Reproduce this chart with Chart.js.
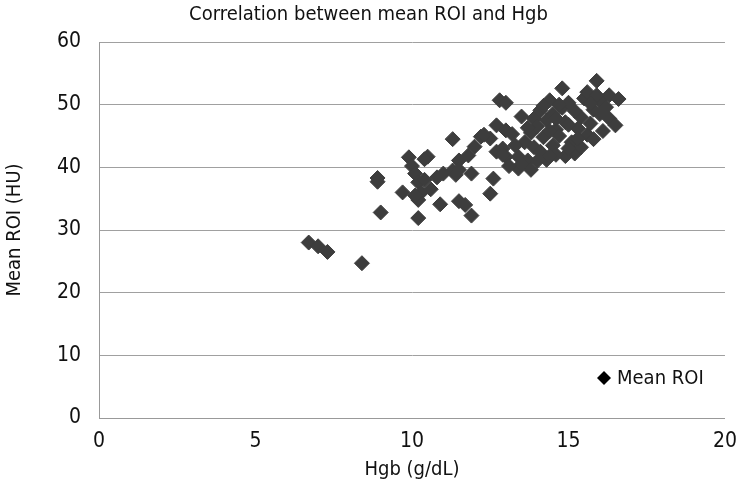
<!DOCTYPE html>
<html>
<head>
<meta charset="utf-8">
<script src="https://cdn.jsdelivr.net/npm/chart.js@4/dist/chart.umd.min.js"></script>
<style>
  html, body { margin: 0; padding: 0; background: #fff; }
  #wrap { width: 748px; height: 492px; }
</style>
</head>
<body>
<div id="wrap"><canvas id="c" width="748" height="492"></canvas></div>
<script>
const chartTitle = "Correlation between mean ROI and Hgb";
const xAxisTitle = "Hgb (g/dL)";
const yAxisTitle = "Mean ROI (HU)";
const seriesName = "Mean ROI";

const hgb = [
  6.7, 7.0, 7.3, 8.4, 8.9, 8.9, 9.0, 9.7, 9.9, 10.0,
  10.1, 10.2, 10.3, 10.2, 10.2, 10.5, 10.4, 10.6, 10.9, 10.8,
  11.0, 11.3, 11.4, 11.3, 11.5, 11.5, 11.8, 11.9, 12.0, 11.5,
  11.7, 11.9, 12.2, 12.5, 12.6, 12.5, 12.7, 12.7, 12.9, 13.0,
  13.0, 13.2, 12.8, 13.0, 13.5, 13.4, 13.7, 13.4, 13.8, 13.6,
  13.9, 14.1, 14.4, 14.8, 13.8, 13.9, 14.0, 14.2, 14.3, 14.5,
  14.6, 14.1, 14.3, 14.5, 14.7, 14.8, 14.9, 15.0, 15.1, 15.2,
  14.9, 15.3, 15.4, 15.5, 15.6, 15.9, 15.6, 15.7, 15.8, 16.0,
  16.3, 16.6, 16.3, 16.5, 16.0, 15.8, 15.4, 15.0, 14.6, 14.4,
  14.2, 13.7, 13.3, 12.9, 15.2, 16.1, 15.9, 13.5, 14.0, 14.7,
  10.1, 10.4, 12.3, 13.1, 14.4, 15.3, 15.0, 14.6, 15.7, 16.2
];
const meanRoi = [
  28.0, 27.4, 26.5, 24.7, 38.3, 37.7, 32.8, 36.0, 41.6, 40.2,
  39.0, 37.6, 36.0, 34.8, 31.9, 41.7, 41.3, 36.5, 34.1, 38.4,
  39.0, 39.5, 38.8, 44.5, 41.1, 39.6, 41.9, 39.0, 43.3, 34.6,
  34.0, 32.3, 44.9, 44.6, 38.2, 35.8, 42.5, 46.7, 43.0, 41.7,
  45.9, 45.3, 50.7, 50.3, 48.1, 41.7, 41.1, 39.8, 39.6, 44.0,
  47.8, 49.1, 50.7, 52.6, 45.5, 43.2, 46.5, 44.8, 47.5, 48.5,
  46.0, 42.5, 41.2, 43.5, 45.0, 49.5, 47.2, 50.3, 44.0, 42.2,
  41.8, 46.2, 48.0, 51.0, 52.0, 53.8, 45.2, 47.0, 49.2, 50.7,
  51.5, 50.9, 47.8, 46.7, 48.5, 44.5, 43.2, 43.0, 42.0, 45.8,
  49.8, 46.3, 43.5, 42.0, 49.0, 45.8, 51.5, 40.5, 41.0, 50.0,
  35.5, 38.0, 45.2, 40.2, 41.8, 44.6, 46.8, 47.8, 50.2, 49.6
];
const xTicks = [0, 5, 10, 15, 20];
const yTicks = [0, 10, 20, 30, 40, 50, 60];

const points = hgb.map((x, i) => ({ x: x, y: meanRoi[i] }));
const FONT = "'Liberation Sans Narrow', 'DejaVu Sans Condensed', 'Roboto Condensed', 'Liberation Sans', sans-serif";

const legendInside = {
  id: 'legendInside',
  afterDraw(chart) {
    const ctx = chart.ctx;
    const ds = chart.data.datasets[0];
    const cx = 604, cy = 378, r = 7;
    ctx.save();
    ctx.fillStyle = '#000';
    ctx.beginPath();
    ctx.moveTo(cx, cy - r);
    ctx.lineTo(cx + r, cy);
    ctx.lineTo(cx, cy + r);
    ctx.lineTo(cx - r, cy);
    ctx.closePath();
    ctx.fill();
    ctx.font = '20px ' + FONT;
    ctx.textBaseline = 'middle';
    ctx.textAlign = 'left';
    ctx.fillStyle = '#111';
    ctx.fillText(ds.label, 617, cy + 1);
    ctx.restore();
  }
};

new Chart(document.getElementById('c'), {
  type: 'scatter',
  data: {
    datasets: [{
      label: seriesName,
      data: points,
      pointStyle: 'rectRot',
      pointRadius: 7.5,
      pointHoverRadius: 7.5,
      backgroundColor: '#3d3d3d',
      borderColor: '#3d3d3d',
      borderWidth: 1
    }]
  },
  options: {
    responsive: false,
    animation: false,
    events: [],
    layout: { padding: { left: 0, right: 11, top: 0, bottom: 0 } },
    plugins: {
      legend: { display: false },
      tooltip: { enabled: false },
      title: {
        display: true,
        text: chartTitle,
        color: '#111',
        font: { family: FONT, size: 20, weight: 'normal', lineHeight: 1.2 },
        padding: { top: 3, bottom: 15 }
      }
    },
    scales: {
      x: {
        type: 'linear',
        min: 0, max: 20,
        afterBuildTicks(scale) { scale.ticks = xTicks.map(v => ({ value: v })); },
        afterFit(scale) { scale.height = 74; },
        grid: { display: false, drawTicks: false },
        border: { display: true, color: '#999', width: 1 },
        ticks: { color: '#111', padding: 11, font: { family: FONT, size: 21 } },
        title: {
          display: true, text: xAxisTitle, color: '#111',
          font: { family: FONT, size: 20 }, padding: { top: 4, bottom: 10 }
        }
      },
      y: {
        type: 'linear',
        min: 0, max: 60,
        afterBuildTicks(scale) { scale.ticks = yTicks.map(v => ({ value: v })); },
        afterFit(scale) { scale.width = 99; },
        grid: { display: true, drawTicks: false, color: '#a0a0a0', lineWidth: 1 },
        border: { display: true, color: '#999', width: 1 },
        ticks: { color: '#111', padding: 18, font: { family: FONT, size: 21 } },
        title: {
          display: true, text: yAxisTitle, color: '#111',
          font: { family: FONT, size: 20 }, padding: { top: 3, bottom: 0 }
        }
      }
    }
  },
  plugins: [legendInside]
});
</script>
</body>
</html>
